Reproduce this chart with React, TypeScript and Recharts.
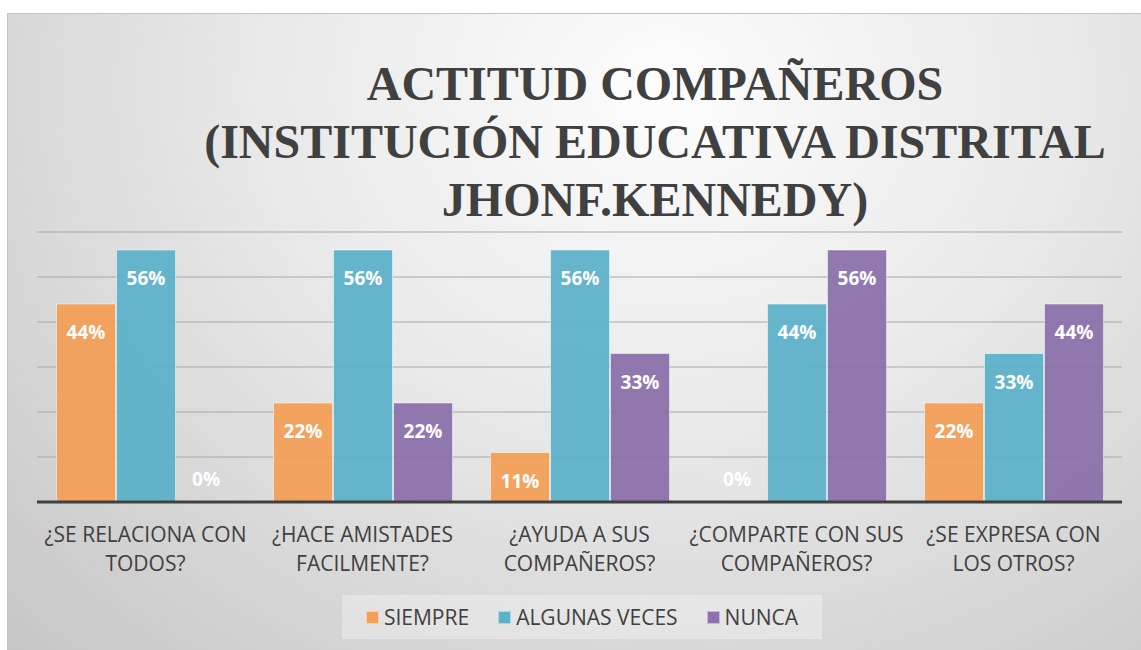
import React from 'react';
import { BarChart, Bar, XAxis, YAxis, CartesianGrid, LabelList } from 'recharts';

const categories = [
  '¿SE RELACIONA CON\nTODOS?',
  '¿HACE AMISTADES\nFACILMENTE?',
  '¿AYUDA A SUS\nCOMPAÑEROS?',
  '¿COMPARTE CON SUS\nCOMPAÑEROS?',
  '¿SE EXPRESA CON\nLOS OTROS?',
];
const siempre = [44, 22, 11, 0, 22];
const algunasVeces = [56, 56, 56, 44, 33];
const nunca = [0, 22, 33, 56, 44];
const yTicks = [0, 10, 20, 30, 40, 50, 60];
const titleLines = ['ACTITUD COMPAÑEROS', '(INSTITUCIÓN EDUCATIVA DISTRITAL', 'JHONF.KENNEDY)'];

const series = [
  { key: 'siempre', name: 'SIEMPRE', color: '#F29F58' },
  { key: 'algunas', name: 'ALGUNAS VECES', color: '#5DB2C9' },
  { key: 'nunca', name: 'NUNCA', color: '#8B72AC' },
];

const data = categories.map((name, i) => ({
  name,
  siempre: siempre[i],
  algunas: algunasVeces[i],
  nunca: nunca[i],
}));

const font = '"Open Sans", "Noto Sans", sans-serif';

const ValueLabel = (props: any) => {
  const { x, y, width, value } = props;
  const ty = Number(value) === 0 ? y - 15 : y + 35;
  return (
    <text x={x + width / 2} y={ty} textAnchor="middle" fill="#fff" fontFamily={font} fontWeight={700} fontSize={19}>
      {value}%
    </text>
  );
};

const CategoryTick = (props: any) => {
  const { x, y, payload } = props;
  const lines = String(payload.value).split('\n');
  return (
    <text x={x} y={y} textAnchor="middle" fill="#404040" fontFamily={font} fontSize={21}>
      {lines.map((l, i) => (
        <tspan key={i} x={x} dy={i === 0 ? 40 : 29}>{l}</tspan>
      ))}
    </text>
  );
};

export default function App() {
  return (
    <div
      style={{
        position: 'absolute',
        left: 7,
        top: 13,
        width: 1134,
        height: 637,
        borderTop: '1px solid #c4c4c4',
        borderLeft: '1px solid #c4c4c4',
        boxSizing: 'border-box',
        background: 'radial-gradient(ellipse at 58% 12%, #fdfdfd 0%, #e8e8e8 45%, #c6c6c6 100%)',
      }}
    >
      <div
        style={{
          position: 'absolute',
          left: 147,
          width: 1000,
          top: 41,
          textAlign: 'center',
          fontFamily: '"Liberation Serif", "Times New Roman", serif',
          fontWeight: 700,
          fontSize: 48,
          lineHeight: '58px',
          color: '#404040',
        }}
      >
        {titleLines.map((l) => (
          <div key={l}>{l}</div>
        ))}
      </div>
      <BarChart
        width={1133}
        height={636}
        data={data}
        margin={{ top: 218, right: 19, bottom: 88, left: 29 }}
        barCategoryGap="9%"
        barGap={1}
        style={{ position: 'absolute', left: 0, top: 0 }}
      >
        <CartesianGrid vertical={false} stroke="#a8a8a8" strokeWidth={1.2} />
        <YAxis hide domain={[0, 60]} ticks={yTicks} />
        <XAxis
          dataKey="name"
          height={60}
          tickLine={false}
          tickSize={0}
          tickMargin={0}
          interval={0}
          stroke="#404040"
          strokeWidth={3}
          tick={<CategoryTick />}
        />
        {series.map((s) => (
          <Bar
            key={s.key}
            dataKey={s.key}
            name={s.name}
            fill={s.color}
            fillOpacity={0.95}
            stroke="#ffffff"
            strokeOpacity={0.5}
            strokeWidth={1}
            minPointSize={1}
            isAnimationActive={false}
          >
            <LabelList dataKey={s.key} content={<ValueLabel />} />
          </Bar>
        ))}
      </BarChart>
      <div
        style={{
          position: 'absolute',
          left: 334,
          top: 581,
          width: 480,
          height: 44,
          background: 'rgba(255,255,255,0.3)',
          display: 'flex',
          alignItems: 'center',
          justifyContent: 'center',
          gap: 29,
          fontFamily: font,
          fontSize: 21,
          color: '#404040',
        }}
      >
        {series.map((s) => (
          <div key={s.key} style={{ display: 'flex', alignItems: 'center' }}>
            <span
              style={{
                display: 'inline-block',
                width: 13,
                height: 13,
                background: s.color,
                border: '1px solid rgba(255,255,255,0.5)',
                boxSizing: 'border-box',
                marginRight: 5,
              }}
            />
            {s.name}
          </div>
        ))}
      </div>
    </div>
  );
}
